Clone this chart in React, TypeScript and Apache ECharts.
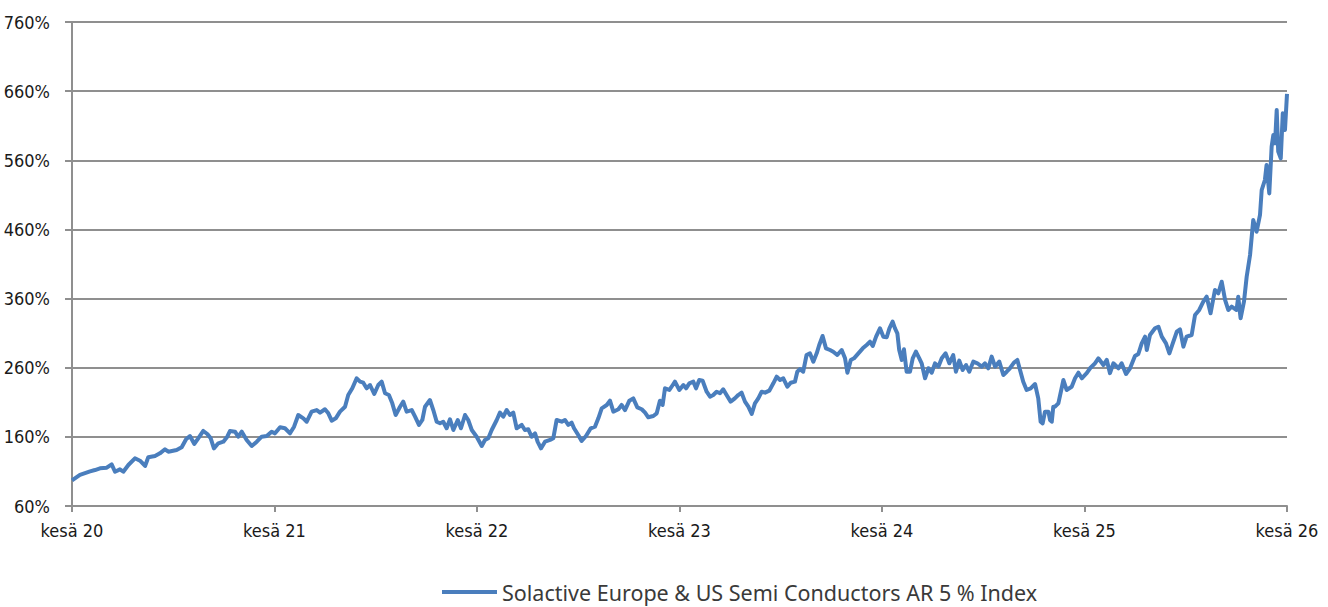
import React, { useEffect, useRef } from "react";
import * as echarts from "echarts";

// x: months since June 2020 ("kesä 20"); y: index level in %
const months = [
  0, 0.47, 1.07, 1.36, 1.66, 2.06, 2.35, 2.55, 2.84, 3.04, 3.34, 3.73, 4.03, 4.33, 4.52, 4.92, 5.21, 5.51, 5.71, 6.2,
  6.5, 6.76, 6.99, 7.25, 7.48, 7.78, 8.02, 8.22, 8.41, 8.67, 8.97, 9.2, 9.36, 9.66, 9.85, 10.06, 10.35, 10.65, 10.95, 11.24,
  11.54, 11.83, 12.03, 12.33, 12.62, 12.92, 13.16, 13.41, 13.71, 13.91, 14.2, 14.5, 14.7, 14.99, 15.19, 15.39, 15.63, 15.88, 16.18, 16.37,
  16.61, 16.87, 17.07, 17.26, 17.46, 17.66, 17.91, 18.15, 18.35, 18.55, 18.78, 18.98, 19.18, 19.44, 19.63, 19.83, 20.13, 20.33, 20.56, 20.76,
  20.92, 21.21, 21.41, 21.61, 21.81, 22.0, 22.2, 22.4, 22.6, 22.86, 23.05, 23.29, 23.48, 23.69, 23.98, 24.28, 24.47, 24.67, 24.87, 25.17,
  25.36, 25.56, 25.76, 25.95, 26.15, 26.35, 26.65, 26.84, 27.04, 27.24, 27.44, 27.59, 27.79, 28.03, 28.33, 28.52, 28.72, 29.02, 29.21, 29.41,
  29.61, 29.75, 30.0, 30.2, 30.46, 30.74, 30.99, 31.19, 31.39, 31.69, 31.88, 32.08, 32.38, 32.57, 32.77, 33.03, 33.26, 33.5, 33.76, 33.96,
  34.15, 34.45, 34.65, 34.84, 35.0, 35.14, 35.4, 35.6, 35.73, 35.99, 36.23, 36.39, 36.58, 36.82, 36.98, 37.17, 37.37, 37.61, 37.81, 38.0,
  38.2, 38.4, 38.59, 38.79, 39.03, 39.28, 39.48, 39.68, 39.88, 40.08, 40.28, 40.47, 40.67, 40.87, 41.07, 41.32, 41.56, 41.76, 41.96, 42.15,
  42.39, 42.59, 42.84, 42.98, 43.14, 43.33, 43.53, 43.73, 43.93, 44.13, 44.28, 44.48, 44.68, 44.92, 45.11, 45.35, 45.61, 45.81, 45.95, 46.15,
  46.34, 46.6, 46.86, 47.09, 47.29, 47.45, 47.65, 47.88, 48.08, 48.28, 48.44, 48.63, 48.77, 48.91, 49.02, 49.17, 49.3, 49.46, 49.66, 49.82,
  50.01, 50.21, 50.35, 50.55, 50.75, 50.95, 51.14, 51.34, 51.54, 51.77, 51.99, 52.22, 52.38, 52.58, 52.78, 52.98, 53.17, 53.41, 53.65, 53.91,
  54.1, 54.3, 54.5, 54.7, 54.95, 55.19, 55.39, 55.58, 55.82, 56.02, 56.18, 56.37, 56.57, 56.81, 57.07, 57.26, 57.4, 57.52, 57.66, 57.86,
  57.96, 58.06, 58.15, 58.25, 58.45, 58.75, 58.94, 59.24, 59.44, 59.64, 59.84, 60.13, 60.33, 60.62, 60.82, 61.12, 61.32, 61.51, 61.71, 62.01,
  62.2, 62.46, 62.7, 62.99, 63.19, 63.39, 63.59, 63.69, 63.88, 64.18, 64.38, 64.58, 64.83, 65.03, 65.23, 65.47, 65.66, 65.86, 66.05, 66.35,
  66.55, 66.8, 67.04, 67.24, 67.47, 67.73, 67.93, 68.13, 68.33, 68.52, 68.72, 69.01, 69.11, 69.25, 69.45, 69.61, 69.81, 70.0, 70.2, 70.4,
  70.5, 70.69, 70.79, 70.95, 71.09, 71.19, 71.29, 71.39, 71.48, 71.63, 71.75, 71.88, 72.0,
];

const values = [
  97, 105, 110, 112, 114.5, 115.4, 120.3, 109.6, 113, 109.6, 119.3, 129, 125.5, 117.9, 130.5, 132.3, 136.2, 142, 138.5, 141,
  144.9, 156.5, 161.2, 149.7, 157.9, 168.5, 164.1, 157.9, 143.4, 150.7, 153, 160.2, 168.5, 167.5, 160.2, 167.5, 155.5, 146.8, 153, 160.2,
  161.2, 167.5, 165.1, 173.8, 172.4, 165.1, 174.7, 191.6, 186.8, 181.9, 196.4, 198.8, 195, 199.9, 194, 183.4, 186.8, 196.4, 203.6, 220.5,
  230.2, 244.7, 239.8, 238.3, 230.2, 235, 222, 235, 239.8, 223, 220.5, 208.5, 191.6, 203.6, 210.9, 196.4, 198.8, 189.2, 177.2, 184.4,
  203.6, 213.3, 198.8, 181.9, 179.6, 181.9, 172.4, 185.4, 169.9, 184.4, 172.4, 191.6, 184.4, 169.9, 160.2, 146.8, 155.5, 157.9, 169.9, 184.4,
  195, 189.2, 198.8, 191.6, 195, 172.4, 177.2, 169.9, 170.9, 160.2, 165.1, 153, 143.4, 153, 155.5, 157.9, 184.4, 181.9, 184.4, 177.2,
  180.5, 172.4, 162.7, 154, 161.2, 172.4, 174.7, 186.8, 201.3, 206.1, 212.3, 196.4, 199.9, 206.1, 198.8, 212.3, 215.7, 202.7, 199.9, 195,
  188.3, 190.2, 194, 212.3, 206.1, 230.2, 227.8, 235, 239.8, 227.8, 235, 230.2, 237.4, 239.8, 230.2, 242.2, 241.2, 225.3, 218.1, 220.5,
  225.3, 223, 228.8, 220.5, 210.9, 215.7, 220.5, 223.9, 210.9, 203.6, 193.1, 208.5, 215.7, 225.3, 223.9, 226.8, 237.4, 247, 242.2, 244.7,
  232.5, 238.3, 239.8, 254.2, 258, 254.2, 278.4, 280.8, 268.8, 280.8, 292.9, 305.9, 288, 285.6, 283.2, 278.4, 285.6, 273.6, 252.8, 271.2,
  273.6, 280.8, 288, 292.9, 297.6, 291.4, 304.9, 317, 304.9, 304, 317, 326.6, 317, 309.8, 285.6, 271.2, 286.6, 254.2, 254.2, 273.6,
  283.2, 273.6, 266.4, 244.7, 259.2, 252.8, 266.4, 261.5, 273.6, 280.8, 266.4, 278.4, 254.2, 270.2, 256.7, 263.9, 254.2, 268.8, 266.4, 261.5,
  266.4, 259.2, 276, 261.5, 268.8, 249.5, 254.2, 259.2, 267.3, 271.2, 256.7, 239.8, 227.8, 230.2, 236.4, 215.7, 181.9, 179.6, 196.4, 196.4,
  184.4, 181.9, 203.6, 203.6, 208.5, 242.2, 227.8, 232.5, 244.7, 252.8, 244.7, 252.1, 259.2, 266.4, 273.6, 263.9, 271.2, 252.1, 266.4, 259.2,
  266.4, 250.9, 259.2, 276.9, 279.8, 295.3, 304.9, 285.6, 307.3, 317, 319.3, 304.9, 295.3, 280.8, 295.3, 312.1, 315.5, 290.5, 304.9, 307.3,
  336.2, 343.5, 355.5, 362.7, 338.7, 372.4, 367.6, 384.4, 358, 343.5, 348.3, 343.5, 362.7, 331.5, 355.5, 391.6, 423, 473.6, 456.7, 480.9,
  517, 531.5, 553.2, 512.1, 579.8, 596.6, 584.6, 632.7, 572.5, 562.8, 627.9, 603.8, 656,
];

const yTicks = { min: 60, max: 760, step: 100 };
const xTicks = { min: 0, max: 72, step: 12, labelPrefix: "kesä ", firstYear: 20 };
const seriesName = "Solactive Europe & US Semi Conductors AR 5 % Index";

const LABEL_FONT = "'DejaVu Sans Condensed', 'Liberation Sans Narrow', sans-serif";
const LEGEND_FONT = "'Noto Sans', 'Open Sans', sans-serif";
const GRID_COLOR = "#8f8f8f";
const LINE_COLOR = "#4a7ebd";

export default function App() {
  const ref = useRef<HTMLDivElement>(null);

  useEffect(() => {
    if (!ref.current) return;
    const chart = echarts.init(ref.current, undefined, { renderer: "svg" });
    const data = months.map((m, i) => [m, values[i]]);
    chart.setOption({
      animation: false,
      backgroundColor: "#ffffff",
      grid: { left: 72, right: 41, top: 22, bottom: 101, outerBoundsMode: "none", containLabel: false },
      legend: {
        left: 442,
        top: 581,
        padding: 0,
        icon: "rect",
        itemWidth: 55,
        itemHeight: 4,
        textStyle: {
          fontFamily: LEGEND_FONT,
          fontSize: 21.5,
          lineHeight: 22,
          color: "#3a3a3a",
        },
        data: [seriesName],
      },
      xAxis: {
        type: "value",
        min: xTicks.min,
        max: xTicks.max,
        interval: xTicks.step,
        axisLine: { show: true, lineStyle: { color: GRID_COLOR, width: 2 } },
        axisTick: { show: true, length: 6, lineStyle: { color: GRID_COLOR, width: 2 } },
        splitLine: { show: false },
        axisLabel: {
          margin: 15,
          fontFamily: LABEL_FONT,
          fontSize: 18,
          color: "#1a1a1a",
          formatter: (v: number) => xTicks.labelPrefix + (xTicks.firstYear + Math.round(v / 12)),
        },
      },
      yAxis: {
        type: "value",
        min: yTicks.min,
        max: yTicks.max,
        interval: yTicks.step,
        axisLine: { show: true, lineStyle: { color: GRID_COLOR, width: 2 } },
        axisTick: { show: true, length: 7, lineStyle: { color: GRID_COLOR, width: 2 } },
        splitLine: { show: true, lineStyle: { color: GRID_COLOR, width: 2 } },
        axisLabel: {
          margin: 22,
          fontFamily: LABEL_FONT,
          fontSize: 18,
          color: "#1a1a1a",
          formatter: (v: number) => v + "%",
        },
      },
      series: [
        {
          name: seriesName,
          type: "line",
          data,
          symbol: "none",
          color: LINE_COLOR,
          lineStyle: { color: LINE_COLOR, width: 4, join: "round" },
        },
      ],
    });
    return () => chart.dispose();
  }, []);

  return (
    <div
      ref={ref}
      style={{ position: "fixed", left: 0, top: 0, width: "1328px", height: "607px" }}
    />
  );
}
